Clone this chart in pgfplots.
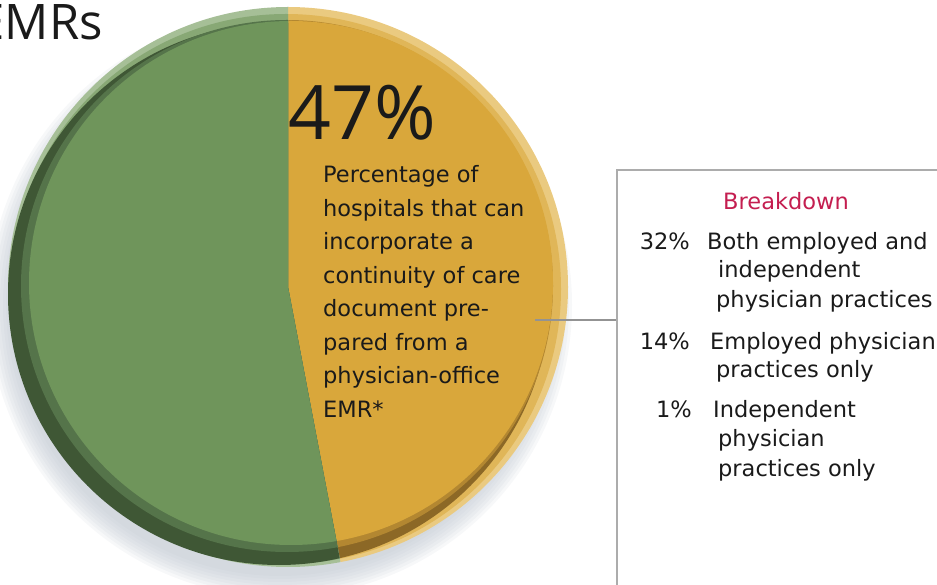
\documentclass[border=0pt]{standalone}
\usepackage{pgfplots}
\pgfplotsset{compat=1.18}
\usepackage{pgfplotstable}
\usepackage{fontspec}
\setmainfont{DejaVu Sans}
\newfontfamily\headfont{Open Sans}

\definecolor{gface}{HTML}{6F955B}
\definecolor{gmidl}{HTML}{88A875}
\definecolor{glight}{HTML}{A6BF97}
\definecolor{gmidd}{HTML}{55744A}
\definecolor{gdark}{HTML}{3F5735}
\definecolor{oface}{HTML}{D9A73B}
\definecolor{omidl}{HTML}{E0B658}
\definecolor{olight}{HTML}{EACA80}
\definecolor{omidd}{HTML}{B38731}
\definecolor{odark}{HTML}{8C6826}
\definecolor{shadowc}{HTML}{BCC4CE}
\definecolor{crim}{HTML}{C41E50}
\definecolor{txt}{HTML}{1A1A1A}

\pgfplotstableread{
slice value
yes 47
no 53
}\pietable

% all layers of one slice, as full circles (clipped to the slice)
\newcommand\layers[5]{%
  \fill[#1] (axis cs:288,297) circle[radius=280pt];
  \fill[#2] (axis cs:286,295) circle[radius=275pt];
  \fill[#5] (axis cs:279,290) circle[radius=271pt];
  \fill[#4] (axis cs:287,298) circle[radius=266pt];
  \fill[#3] (axis cs:291,301) circle[radius=262pt];
}

\begin{document}
\begin{tikzpicture}
\useasboundingbox (0,0) rectangle (937pt,584pt);
\clip (0,0) rectangle (937pt,584pt);
\begin{axis}[at={(0,0)}, anchor=south west, scale only axis,
  width=937pt, height=584pt, xmin=0, xmax=937, ymin=0, ymax=584,
  axis lines=none, clip=true]
\pgfplotstablegetelem{0}{value}\of\pietable
\pgfmathsetmacro\aend{90-\pgfplotsretval*3.6}
% soft shadow
\fill[shadowc, opacity=0.12] (axis cs:280,279) circle[radius=292pt];
\fill[shadowc, opacity=0.12] (axis cs:280,279) circle[radius=289pt];
\fill[shadowc, opacity=0.12] (axis cs:280,279) circle[radius=286pt];
\fill[shadowc, opacity=0.12] (axis cs:280,279) circle[radius=283pt];
\fill[shadowc, opacity=0.12] (axis cs:280,279) circle[radius=280pt];
\fill[shadowc, opacity=0.12] (axis cs:280,279) circle[radius=277pt];
\fill[shadowc, opacity=0.12] (axis cs:280,279) circle[radius=274pt];
\fill[shadowc, opacity=0.12] (axis cs:280,279) circle[radius=271pt];
% orange slice (47%)
\begin{scope}
\clip (axis cs:288,297) -- (axis cs:288,800) -- (axis cs:1100,800) -- (axis cs:1100,-700)
   -- (axis cs:{288+900*cos(\aend)},{297+900*sin(\aend)}) -- cycle;
\layers{olight}{omidl}{oface}{omidd}{odark}
\end{scope}
% green slice (53%)
\begin{scope}
\clip (axis cs:288,297) -- (axis cs:288,800) -- (axis cs:-700,800) -- (axis cs:-700,-700)
   -- (axis cs:{288+900*cos(\aend)},{297+900*sin(\aend)}) -- cycle;
\layers{glight}{gmidl}{gface}{gmidd}{gdark}
\end{scope}
% title
\node[anchor=base east, inner sep=0, text=txt, font=\headfont\fontsize{49}{49}\selectfont] at (axis cs:103,544) {EMRs};
% big number
\node[anchor=base west, inner sep=0, text=txt, font=\headfont\fontsize{75}{75}\selectfont] at (axis cs:288,444) {47\%};
% pie text
\begin{scope}[every node/.style={anchor=base west, inner sep=0, text=txt, font=\fontsize{22.5}{27}\selectfont}]
\node at (axis cs:323,401) {Percentage of};
\node at (axis cs:323,367.5) {hospitals that can};
\node at (axis cs:323,334) {incorporate a};
\node at (axis cs:323,300.5) {continuity of care};
\node at (axis cs:323,267) {document pre-};
\node at (axis cs:323,233.5) {pared from a};
\node at (axis cs:323,200) {physician-office};
\node at (axis cs:323,166.5) {EMR*};
\end{scope}
% connector and box
\draw[color=gray!85, line width=1.5pt] (axis cs:535,264) -- (axis cs:617,264);
\draw[color=gray!65, line width=2pt] (axis cs:617,-10) -- (axis cs:617,414) -- (axis cs:960,414);
% breakdown
\node[anchor=base, inner sep=0, text=crim, font=\fontsize{22.5}{27}\selectfont] at (axis cs:786,374) {Breakdown};
\begin{scope}[every node/.style={inner sep=0, text=txt, font=\fontsize{22.5}{27}\selectfont}]
\node[anchor=base east] at (axis cs:690,334) {32\%};
\node[anchor=base west] at (axis cs:707,334) {Both employed and};
\node[anchor=base west] at (axis cs:718,306) {independent};
\node[anchor=base west] at (axis cs:716,276) {physician practices};
\node[anchor=base east] at (axis cs:690,234) {14\%};
\node[anchor=base west] at (axis cs:710,234) {Employed physician};
\node[anchor=base west] at (axis cs:716,206) {practices only};
\node[anchor=base east] at (axis cs:692,166) {1\%};
\node[anchor=base west] at (axis cs:713,166) {Independent};
\node[anchor=base west] at (axis cs:718,137) {physician};
\node[anchor=base west] at (axis cs:718,107) {practices only};
\end{scope}
\end{axis}
\end{tikzpicture}
\end{document}
